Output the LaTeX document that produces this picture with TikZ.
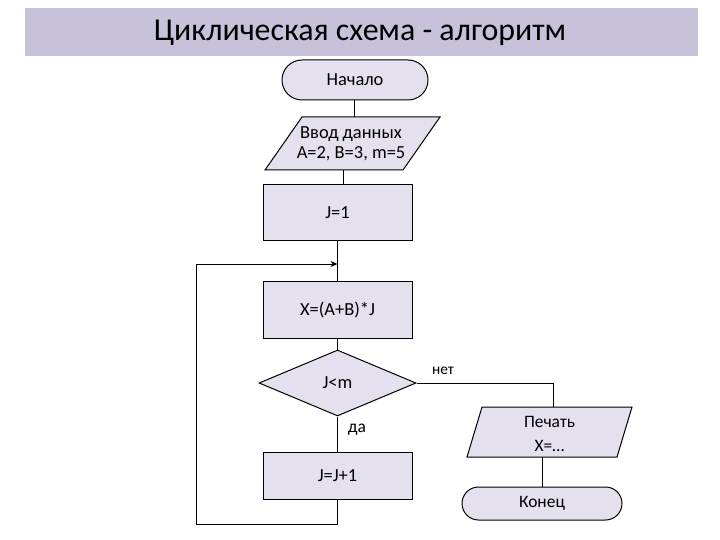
\documentclass[tikz,border=0pt]{standalone}
\usepackage{fontspec}
\setmainfont{Carlito}
\usetikzlibrary{shapes.geometric,arrows.meta}
\definecolor{barfill}{HTML}{C8C1DA}
\definecolor{boxfill}{HTML}{E4E0EE}
\tikzset{
  ln/.style={line width=1bp, draw=black},
  txt/.style={font=\fontsize{18.5}{20.5}\selectfont, inner sep=0pt, align=center},
  procbox/.style={ln, fill=boxfill, rectangle, minimum width=149bp, txt},
  termbox/.style={ln, fill=boxfill, rectangle, txt},
  decbox/.style={ln, fill=boxfill, diamond, minimum width=157bp, minimum height=66bp, txt},
}
\begin{document}
\begin{tikzpicture}[x=1bp,y=-1bp]
\useasboundingbox (0,0) rectangle (720,540);
% title
\fill[barfill] (25,8) rectangle (698,56);
\node[font=\fontsize{32}{38}\selectfont, inner sep=0pt] (title) at (360,33) {Циклическая схема - алгоритм};

% start
\node[termbox, minimum width=146bp, minimum height=40bp, rounded corners=20bp] (start) at (355,80) {Начало};

% input parallelogram
\filldraw[ln, fill=boxfill] (302,117) -- (440,117) -- (403,170) -- (265,170) -- cycle;
\node[txt] (inp) at (351,143.5) {Ввод данных\\A=2, B=3, m=5};
\coordinate (inptop) at (354,117);
\coordinate (inpbot) at (343,170);

% J=1
\node[procbox, minimum height=56bp] (j1) at (337.5,213) {J=1};
\coordinate (j1in) at (343,185);

% X
\node[procbox, minimum height=56bp] (xb) at (337.5,310) {X=(A+B)*J};

% decision
\node[decbox] (dec) at (337.5,383) {J<m};

% J=J+1
\node[procbox, minimum height=47bp] (inc) at (337.5,475.5) {J=J+1};

% print parallelogram
\filldraw[ln, fill=boxfill] (482,407) -- (632,407) -- (617,457) -- (467,457) -- cycle;
\node[txt, font=\fontsize{17.5}{24}\selectfont] (pr) at (549.5,434) {Печать\\X=…};
\coordinate (prtop) at (553,407);
\coordinate (prbot) at (542,457);

% end
\node[termbox, minimum width=160bp, minimum height=33bp, rounded corners=16.5bp, font=\fontsize{17.5}{20}\selectfont] (fin) at (542,503.5) {Конец};

% connectors
\draw[ln] (start.south -| inptop) -- (inptop);
\draw[ln] (inpbot) -- (j1in);
\draw[ln] (j1.south) -- (xb.north);
\draw[ln] (xb.south) -- (dec.north);
\draw[ln] (dec.south) -- (inc.north);
\coordinate (loopa) at (337.5,524);
\coordinate (loopb) at (196,524);
\coordinate (loopc) at (196,264);
\coordinate (loopd) at (337.5,264);
\draw[ln, -{Stealth[length=7bp,width=6bp]}] (inc.south) -- (loopa) -- (loopb) -- (loopc) -- (loopd);
\draw[ln] (dec.east) -- (dec.east -| prtop) -- (prtop);
\draw[ln] (prbot) -- (fin.north -| prbot);

% labels
\node[txt, font=\fontsize{15.5}{18}\selectfont] (no) at (443,371) {нет};
\node[txt, font=\fontsize{17.5}{20}\selectfont] (yes) at (357,430) {да};
\end{tikzpicture}
\end{document}
